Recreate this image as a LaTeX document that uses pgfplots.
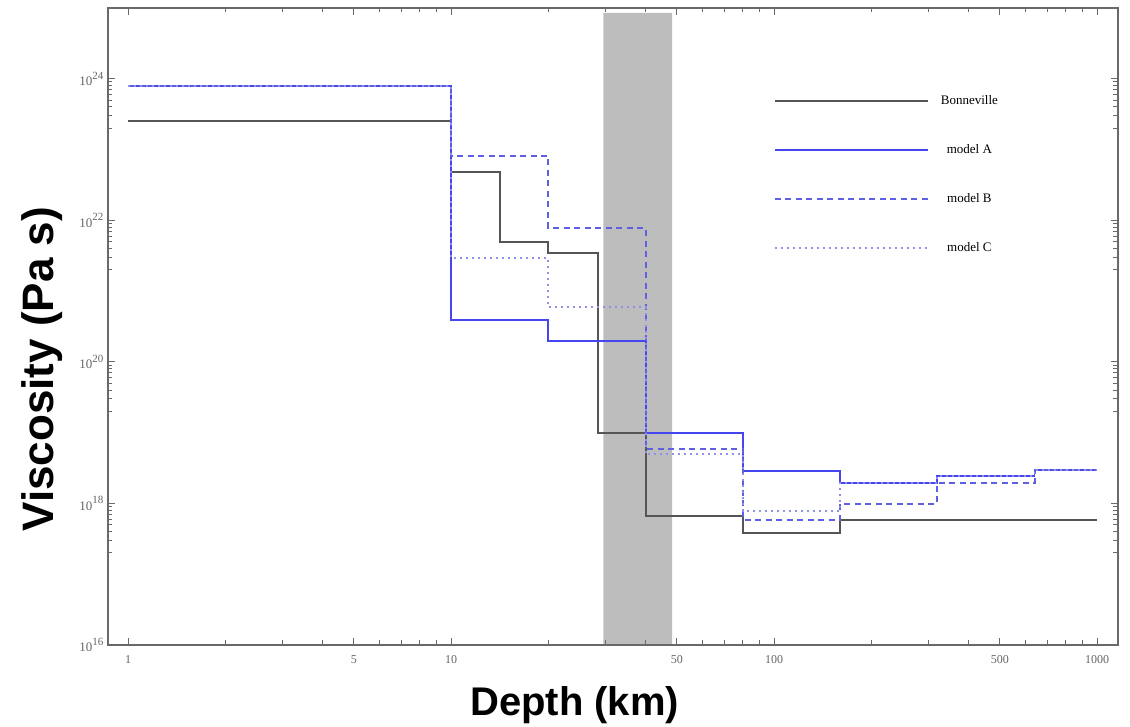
\documentclass[border=0pt]{standalone}
\usepackage{fontspec}
\setmainfont{Liberation Serif}
\setsansfont{Liberation Sans}
\usepackage{pgfplots}
\pgfplotsset{compat=1.18}
\definecolor{bonne}{RGB}{85,85,85}
\definecolor{modA}{RGB}{70,70,240}
\definecolor{modB}{RGB}{95,95,228}
\definecolor{modC}{RGB}{145,145,236}
\definecolor{band}{RGB}{189,189,189}
\definecolor{axgray}{RGB}{105,105,105}
\definecolor{labgray}{RGB}{100,100,100}
\newcommand{\tenpow}[1]{10\raisebox{0.5em}{\fontsize{11}{11}\selectfont #1}}

\begin{document}
\begin{tikzpicture}
\path[use as bounding box] (-108pt,-81pt) rectangle (1022pt,645pt);
\begin{axis}[
  at={(0pt,0pt)}, anchor=south west,
  scale only axis, width=1010pt, height=637pt,
  xmode=log, ymode=log,
  xmin=0.866, xmax=1160, ymin=1e16, ymax=1e25,
  xtick={1,5,10,50,100,500,1000},
  xticklabels={1,5,10,50,100,500,1000},
  minor xtick={2,3,4,6,7,8,9,20,30,40,60,70,80,90,200,300,400,600,700,800,900},
  ytick={1e16,1e18,1e20,1e22,1e24},
  yticklabels={\tenpow{16},\tenpow{18},\tenpow{20},\tenpow{22},\tenpow{24}},
  minor ytick={2e17,3e17,4e17,5e17,6e17,7e17,8e17,9e17,
               2e19,3e19,4e19,5e19,6e19,7e19,8e19,9e19,
               2e21,3e21,4e21,5e21,6e21,7e21,8e21,9e21,
               2e23,3e23,4e23,5e23,6e23,7e23,8e23,9e23},
  axis line style={draw=axgray, line width=1.4pt},
  every tick/.style={axgray, line width=1pt},
  major tick length=7pt, minor tick length=4.5pt,
  tick label style={font=\fontsize{12}{12}\selectfont, text=labgray},
  yticklabel style={font=\fontsize{13}{13}\selectfont, xshift=-1pt},
  xticklabel style={yshift=-7pt},
  axis on top,
  xlabel={Depth (km)},
  ylabel={Viscosity (Pa s)},
  xlabel style={font=\sffamily\bfseries\fontsize{40}{40}\selectfont,
                at={(axis description cs:0.462,-0.095)}, anchor=center},
  ylabel style={font=\sffamily\bfseries\fontsize{44}{44}\selectfont,
                at={(axis description cs:-0.0655,0.433)}, anchor=center},
  legend style={at={(rel axis cs:0.659,0.864)}, anchor=north west,
                draw=none, fill=none, inner sep=0pt, row sep=36pt, column sep=12pt,
                font=\fontsize{13}{13}\selectfont,
                nodes={inner sep=0pt, text height=10pt, text depth=3pt}},
  legend cell align=center,
  legend image code/.code={\draw[#1] (0pt,0pt) -- (153pt,0pt);},
]
% shaded depth band
\addplot[fill=band, draw=none, forget plot] coordinates
  {(29.6,1e16) (29.6,8.5e24) (48.3,8.5e24) (48.3,1e16)} \closedcycle;

\addplot[const plot, bonne, line width=2.1pt] coordinates
  {(1,2.5e23) (10,4.8e22) (14.2,4.9e21) (20,3.5e21) (28.5,1e19)
   (40,6.6e17) (80,3.8e17) (160,5.9e17) (1000,5.9e17)};
\addlegendentry{Bonneville}

\addplot[const plot, modA, line width=1.8pt] coordinates
  {(1,7.9e23) (10,3.9e20) (20,1.95e20) (40,9.8e18) (80,2.9e18)
   (160,1.95e18) (320,2.45e18) (640,2.95e18) (1000,2.95e18)};
\addlegendentry{model A}

\addplot[const plot, modB, line width=2pt, dash pattern=on 6pt off 4.5pt] coordinates
  {(1,7.9e23) (10,8.1e22) (20,7.8e21) (40,5.9e18) (80,5.9e17)
   (160,9.8e17) (320,1.95e18) (640,2.95e18) (1000,2.95e18)};
\addlegendentry{model B}

\addplot[const plot, modC, line width=1.8pt, dash pattern=on 2pt off 4pt] coordinates
  {(1,7.9e23) (10,2.95e21) (20,5.9e20) (40,5.0e18) (80,7.8e17)
   (160,1.95e18) (320,2.45e18) (640,2.95e18) (1000,2.95e18)};
\addlegendentry{model C}
\end{axis}
\end{tikzpicture}
\end{document}
